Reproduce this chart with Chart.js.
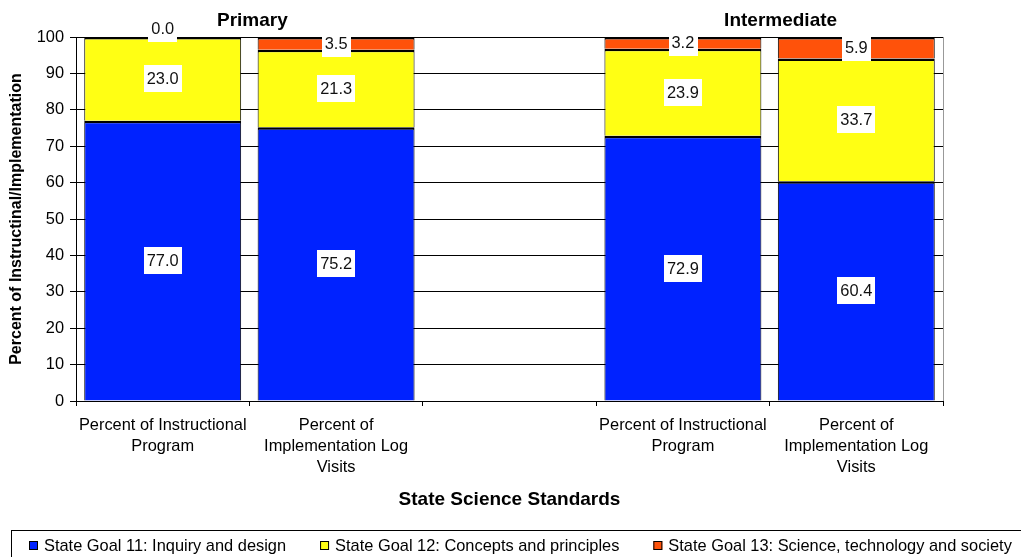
<!DOCTYPE html>
<html><head><meta charset="utf-8">
<script src="https://cdn.jsdelivr.net/npm/chart.js@4.4.1/dist/chart.umd.min.js"></script>
<style>html,body{margin:0;padding:0;background:#fff}#wrap{width:1021px;height:557px}</style>
</head><body><div id="wrap"><canvas id="c" width="1021" height="557"></canvas></div>
<script>
const categories = [
  ["Percent of Instructional", "Program"],
  ["Percent of", "Implementation Log", "Visits"],
  "",
  ["Percent of Instructional", "Program"],
  ["Percent of", "Implementation Log", "Visits"]
];
const goal11 = [77.0, 75.2, null, 72.9, 60.4];
const goal12 = [23.0, 21.3, null, 23.9, 33.7];
const goal13 = [0.0, 3.5, null, 3.2, 5.9];
const seriesNames = [
  "State Goal 11: Inquiry and design",
  "State Goal 12: Concepts and principles",
  "State Goal 13: Science, technology and society"
];
const seriesColors = ["#0022FF", "#FFFF14", "#FF520A"];
const groupTitles = ["Primary", "Intermediate"];
const groupIndexes = [[0, 1], [3, 4]];
const yTitle = "Percent of Instructinal/Implementation";
const xTitle = "State Science Standards";

const FONT = "'Liberation Sans', Arial, sans-serif";
const FS = 16.4;

const labelPlugin = {
  id: 'segLabels',
  afterDatasetsDraw(chart) {
    const ctx = chart.ctx;
    ctx.save();
    ctx.font = FS + "px " + FONT;
    ctx.textAlign = 'center';
    ctx.textBaseline = 'middle';
    chart.data.datasets.forEach((ds, i) => {
      const meta = chart.getDatasetMeta(i);
      meta.data.forEach((bar, j) => {
        const v = ds.data[j];
        if (v === null || v === undefined) return;
        const p = bar.getProps(['x', 'y', 'base'], true);
        let cy = (p.y + p.base) / 2;
        if (v === 0) cy -= 9;
        const t = v.toFixed(1);
        const w = ctx.measureText(t).width + 6;
        const h = 27;
        ctx.fillStyle = '#fff';
        ctx.fillRect(Math.round(p.x - w / 2), Math.round(cy - h / 2), Math.round(w), h);
        ctx.fillStyle = '#111';
        ctx.fillText(t, p.x, cy + 1);
      });
    });
    ctx.restore();
  }
};

const decorPlugin = {
  id: 'decor',
  afterDraw(chart) {
    const ctx = chart.ctx;
    const xs = chart.scales.x;
    const a = chart.chartArea;
    ctx.save();
    // right plot border
    ctx.strokeStyle = '#999';
    ctx.lineWidth = 1;
    ctx.beginPath();
    ctx.moveTo(Math.round(a.right) + 0.5, a.top);
    ctx.lineTo(Math.round(a.right) + 0.5, a.bottom);
    ctx.stroke();
    // group titles
    ctx.fillStyle = '#000';
    ctx.font = "bold 19px " + FONT;
    ctx.textAlign = 'center';
    ctx.textBaseline = 'middle';
    const offs = [3, 11];
    groupTitles.forEach((g, k) => {
      const [i0, i1] = groupIndexes[k];
      const cx = (xs.getPixelForValue(i0) + xs.getPixelForValue(i1)) / 2 + offs[k];
      ctx.fillText(g, cx, 21);
    });
    // legend
    ctx.strokeStyle = '#000';
    ctx.strokeRect(11.5, 530.5, 1040, 40);
    ctx.font = FS + "px " + FONT;
    ctx.textAlign = 'left';
    let x = 29;
    chart.data.datasets.forEach((ds) => {
      ctx.fillStyle = ds.backgroundColor;
      ctx.fillRect(x, 541, 9, 9);
      ctx.strokeStyle = '#000';
      ctx.strokeRect(x + 0.5, 541.5, 8, 8);
      ctx.fillStyle = '#000';
      ctx.fillText(ds.label, x + 15, 546);
      x += 15 + ctx.measureText(ds.label).width + 34;
    });
    ctx.restore();
  }
};

const mk = (label, data, color) => ({
  label, data, backgroundColor: color,
  borderColor: '#000',
  borderWidth: {top: 2.5, left: 1, right: 1, bottom: 0},
  borderSkipped: 'start',
  barPercentage: 0.905, categoryPercentage: 1.0
});

new Chart(document.getElementById('c'), {
  type: 'bar',
  data: {
    labels: categories,
    datasets: [
      mk(seriesNames[0], goal11, seriesColors[0]),
      mk(seriesNames[1], goal12, seriesColors[1]),
      mk(seriesNames[2], goal13, seriesColors[2])
    ]
  },
  options: {
    responsive: false,
    animation: false,
    layout: {padding: {left: 0, right: 78, top: 37, bottom: 27}},
    plugins: {legend: {display: false}, tooltip: {enabled: false}},
    scales: {
      x: {
        stacked: true,
        grid: {offset: true, drawOnChartArea: false, drawTicks: true, tickLength: 5, color: '#000'},
        border: {color: '#000'},
        ticks: {autoSkip: false, maxRotation: 0, padding: 9, color: '#000',
                font: {family: FONT, size: FS, lineHeight: 1.28}},
        title: {display: true, text: xTitle, color: '#000',
                font: {family: FONT, size: 19, weight: 'bold'},
                padding: {top: 0, bottom: 18.6}},
        afterFit(s) { s.height = 129; }
      },
      y: {
        stacked: true, min: 0, max: 100,
        grid: {color: '#000', tickLength: 6},
        border: {color: '#000'},
        ticks: {stepSize: 10, padding: 6, color: '#000', font: {family: FONT, size: FS}},
        title: {display: true, text: yTitle, color: '#000',
                font: {family: FONT, size: 16, weight: 'bold'},
                padding: {top: 7, bottom: 0}},
        afterFit(s) { s.width = 76; }
      }
    }
  },
  plugins: [labelPlugin, decorPlugin]
});
</script>
</body></html>
